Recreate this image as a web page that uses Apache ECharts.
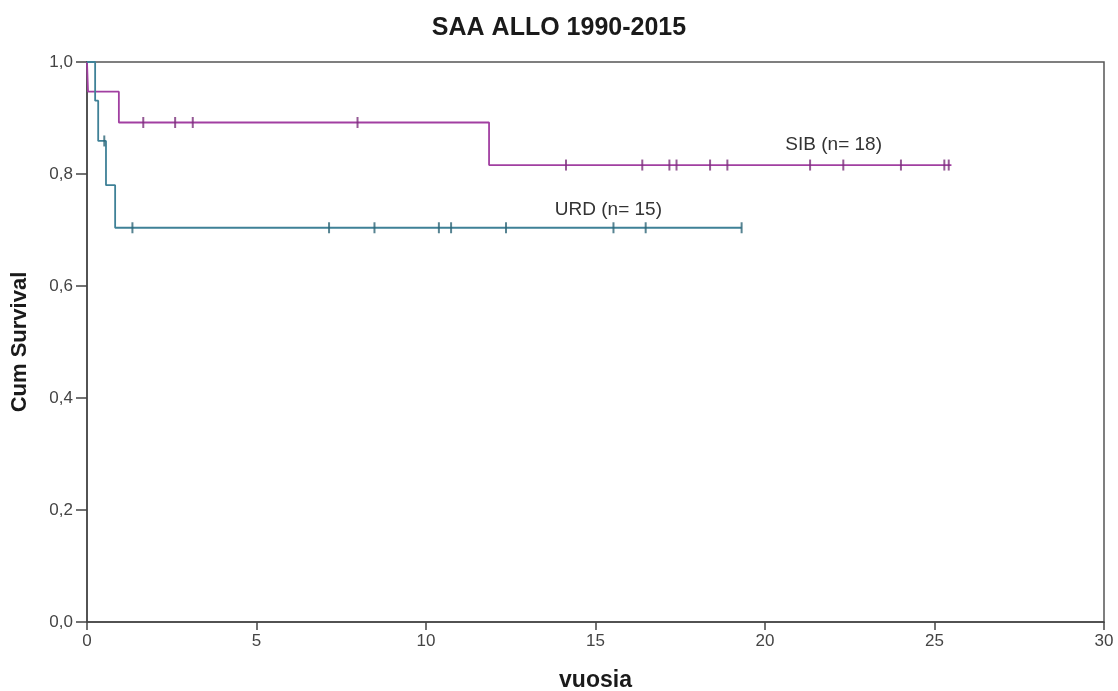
<!DOCTYPE html>
<html>
<head>
<meta charset="utf-8">
<script src="https://cdn.jsdelivr.net/npm/echarts@6/dist/echarts.min.js"></script>
<style>
html,body{margin:0;padding:0;background:#fff;}
#chart{width:1118px;height:691px;}
</style>
</head>
<body>
<div id="chart"></div>
<script>
// Kaplan-Meier step points [time, survival]
var sibSteps = [[0, 1.0], [0.03, 0.947], [0.94, 0.892], [11.86, 0.816], [25.5, 0.816]];
var urdSteps = [[0, 1.0], [0.24, 0.931], [0.33, 0.859], [0.56, 0.780], [0.83, 0.704], [19.31, 0.704]];
// Censoring marks [time, survival]
var sibCensored = [[1.66, 0.892], [2.60, 0.892], [3.12, 0.892], [7.98, 0.892],
  [14.13, 0.816], [16.38, 0.816], [17.18, 0.816], [17.39, 0.816], [18.38, 0.816], [18.89, 0.816],
  [21.33, 0.816], [22.31, 0.816], [24.01, 0.816], [25.29, 0.816], [25.42, 0.816]];
var urdCensored = [[0.51, 0.859], [1.34, 0.704], [7.14, 0.704], [8.48, 0.704], [10.38, 0.704], [10.74, 0.704],
  [12.36, 0.704], [15.53, 0.704], [16.48, 0.704], [19.31, 0.704]];
var xTicks = [0, 5, 10, 15, 20, 25, 30];
var yTicks = [0, 0.2, 0.4, 0.6, 0.8, 1.0];
var labels = [
  {text: 'SIB (n= 18)', x: 20.6, y: 0.852},
  {text: 'URD (n= 15)', x: 13.8, y: 0.736}
];

var FONT = '"Liberation Sans", Arial, sans-serif';
var sibColor = '#a13fa1', urdColor = '#3f8197';

var chart = echarts.init(document.getElementById('chart'));
var option = {
  backgroundColor: '#fff',
  animation: false,
  title: {
    text: 'SAA ALLO 1990-2015', left: 'center', top: 11,
    textStyle: {fontFamily: FONT, fontSize: 25, fontWeight: 'bold', color: '#1a1a1a'}
  },
  grid: {left: 87, right: 14, top: 62, bottom: 69, containLabel: false, outerBoundsMode: 'none',
    show: true, borderColor: '#555', borderWidth: 1.5, backgroundColor: 'transparent'},
  xAxis: {
    type: 'value', min: xTicks[0], max: xTicks[xTicks.length - 1], interval: 5,
    name: 'vuosia', nameLocation: 'middle', nameGap: 47,
    nameTextStyle: {fontFamily: FONT, fontSize: 23, fontWeight: 'bold', color: '#1a1a1a'},
    axisLine: {show: true, lineStyle: {color: '#444', width: 1.5}},
    axisTick: {show: true, length: 8, lineStyle: {color: '#444', width: 1.5}},
    axisLabel: {fontFamily: FONT, fontSize: 17, color: '#444', margin: 11},
    splitLine: {show: false}
  },
  yAxis: {
    type: 'value', min: 0, max: 1, interval: 0.2,
    name: 'Cum Survival', nameLocation: 'middle', nameGap: 56, nameRotate: 90,
    nameTextStyle: {fontFamily: FONT, fontSize: 22, fontWeight: 'bold', color: '#1a1a1a'},
    axisLine: {show: true, lineStyle: {color: '#444', width: 1.5}},
    axisTick: {show: true, length: 11, lineStyle: {color: '#444', width: 1.5}},
    axisLabel: {fontFamily: FONT, fontSize: 17, color: '#444', margin: 14,
      formatter: function (v) { return v.toFixed(1).replace('.', ','); }},
    splitLine: {show: false}
  },
  series: [
    {type: 'line', step: 'end', data: sibSteps, showSymbol: false, lineStyle: {color: sibColor, width: 1.8}, z: 3},
    {type: 'line', step: 'end', data: urdSteps, showSymbol: false, lineStyle: {color: urdColor, width: 1.8}, z: 3},
    {type: 'scatter', data: sibCensored, symbol: 'rect', symbolSize: [2, 11], itemStyle: {color: '#7a2f7a'}, z: 4},
    {type: 'scatter', data: urdCensored, symbol: 'rect', symbolSize: [2, 11], itemStyle: {color: '#2d6577'}, z: 4}
  ]
};
chart.setOption(option);

var gfx = labels.map(function (l) {
  var p = chart.convertToPixel({gridIndex: 0}, [l.x, l.y]);
  return {type: 'text', x: p[0], y: p[1],
    style: {text: l.text, fontFamily: FONT, fontSize: 19, fill: '#333', verticalAlign: 'middle'}};
});
chart.setOption({graphic: gfx});
</script>
</body>
</html>
